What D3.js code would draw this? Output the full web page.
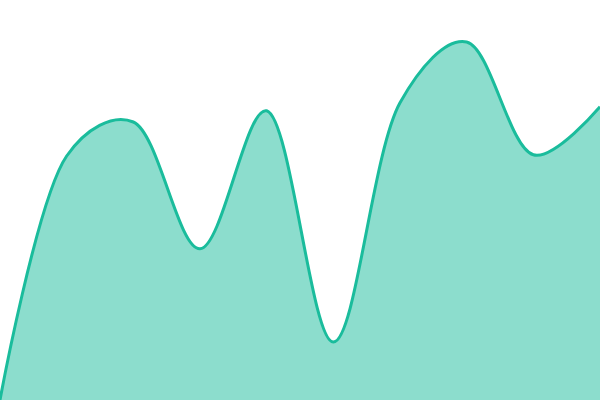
<!DOCTYPE html>
<html><head><meta charset="utf-8">
<script src="https://cdn.jsdelivr.net/npm/d3@7"></script>
<style>html,body{margin:0;padding:0;background:#fff;}svg{display:block;}</style>
</head><body>
<svg id="chart" width="600" height="400"></svg>
<script>
const categories = [0, 1, 2, 3, 4, 5, 6, 7, 8, 9];
const values = [0, 61, 69.5, 37.8, 72.3, 14.5, 74.3, 89.5, 61.3, 73.3];

const W = 600, H = 400;
const svg = d3.select("#chart");
const x = d3.scaleLinear().domain([0, 9]).range([0, W]);
const y = d3.scaleLinear().domain([0, 100]).range([H, 0]);
const data = categories.map((c, i) => ({c, v: values[i]}));
const curve = d3.curveCatmullRom.alpha(0.35);

svg.append("path").datum(data)
  .attr("fill", "#1abc9c").attr("fill-opacity", 0.5)
  .attr("d", d3.area().curve(curve).x(d => x(d.c)).y0(H).y1(d => y(d.v)));
svg.append("path").datum(data)
  .attr("fill", "none").attr("stroke", "#1abc9c").attr("stroke-width", 3)
  .attr("d", d3.line().curve(curve).x(d => x(d.c)).y(d => y(d.v)));
</script>
</body></html>
